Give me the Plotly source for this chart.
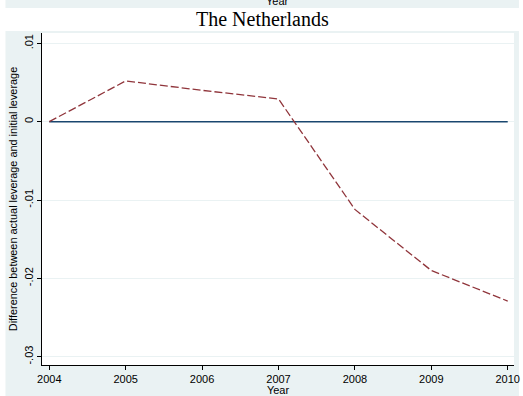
import plotly.graph_objects as go

# Leverage gap over time, The Netherlands
years = [2004, 2005, 2006, 2007, 2008, 2009, 2010]
baseline = [0, 0, 0, 0, 0, 0, 0]
leverage_gap = [0.0, 0.0052, 0.0040, 0.0029, -0.0112, -0.0190, -0.0229]

y_ticks = [0.01, 0.0, -0.01, -0.02, -0.03]
y_tick_text = [".01", "0", "-.01", "-.02", "-.03"]
x_ticks = [2004, 2005, 2006, 2007, 2008, 2009, 2010]

BG = "#eaf2f3"
NAVY = "#1a476f"
MAROON = "#90353b"

W, H = 523, 396
L, R, T, B = 42, 3, 33, 31
pw, ph = W - L - R, H - T - B


def px_x(p):
    return (p - L) / pw


def px_y(p):
    return (H - B - p) / ph


def bg_rect(x0, y0, x1, y1):
    return dict(type="rect", xref="paper", yref="paper", layer="below",
                x0=px_x(x0), x1=px_x(x1), y0=px_y(y1), y1=px_y(y0),
                fillcolor=BG, line=dict(width=0))


fig = go.Figure()
fig.add_trace(go.Scatter(
    x=years, y=baseline, mode="lines",
    line=dict(color=NAVY, width=1.5), hoverinfo="skip", showlegend=False))
fig.add_trace(go.Scatter(
    x=years, y=leverage_gap, mode="lines",
    line=dict(color=MAROON, width=1.3, dash="8px,3px"), showlegend=False))

# graph region framing the white plot area, plus strip of the panel above
shapes = [
    bg_rect(5, 31, W + 2, T),            # top band
    bg_rect(5, T, L, H + 2),             # left band
    bg_rect(L, H - B, W + 2, H + 2),     # bottom band
    bg_rect(W - R, T, W + 2, H - B),     # right band
    bg_rect(5, -2, W + 2, 8),            # panel above
]

annotations = [
    dict(text="The Netherlands", xref="paper", yref="paper",
         x=px_x(265), y=px_y(19), xanchor="center", yanchor="middle",
         showarrow=False, font=dict(family="Liberation Serif", size=20, color="#000")),
    dict(text="Year", xref="paper", yref="paper",
         x=px_x(280), y=px_y(1), xanchor="center", yanchor="middle",
         showarrow=False, font=dict(family="Liberation Sans", size=11, color="#000")),
]

fig.update_layout(
    width=W, height=H,
    margin=dict(l=L, r=R, t=T, b=B, pad=0),
    paper_bgcolor="white", plot_bgcolor="white",
    shapes=shapes, annotations=annotations,
    font=dict(family="Liberation Sans", size=11, color="#000"),
    xaxis=dict(
        range=[2003.905, 2010.082], tickvals=x_ticks,
        showgrid=False, zeroline=False,
        showline=True, linecolor="#000", linewidth=1,
        ticks="outside", ticklen=4, tickcolor="#000",
        ticklabeloverflow="allow",
        title=dict(text="Year", standoff=0, font=dict(size=11)),
        tickfont=dict(size=11),
    ),
    yaxis=dict(
        range=[-0.03106, 0.01132], tickvals=y_ticks, ticktext=y_tick_text,
        tickangle=-90,
        showgrid=True, gridcolor=BG, gridwidth=1, zeroline=False,
        showline=True, linecolor="#000", linewidth=1,
        ticks="outside", ticklen=4, tickcolor="#000",
        title=dict(text="Difference between actual leverage and initial leverage",
                   standoff=2, font=dict(size=10.9)),
        tickfont=dict(size=11),
    ),
)

fig.write_html("out.html")
